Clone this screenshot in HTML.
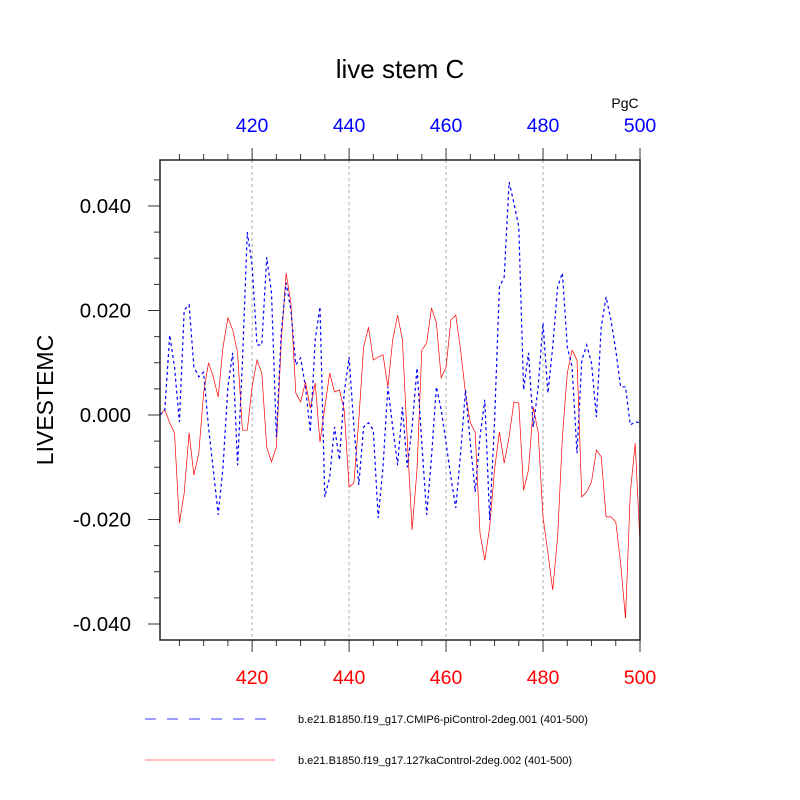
<!DOCTYPE html>
<html><head><meta charset="utf-8"><style>
body{margin:0;background:#fff;}
svg{display:block;font-family:"Liberation Sans",sans-serif;}
</style></head><body>
<svg id="chart" width="800" height="800" viewBox="0 0 800 800">
<rect width="800" height="800" fill="#fff"/>
<text x="400" y="78" font-size="26" text-anchor="middle">live stem C</text>
<text x="625" y="108" font-size="14" text-anchor="middle">PgC</text>
<text transform="translate(53,400) rotate(-90)" font-size="23" text-anchor="middle">LIVESTEMC</text>
<g id="grid"></g><g id="axes"></g><g id="series"></g>
<rect x="160" y="160" width="480" height="480" fill="none" stroke="#222" stroke-width="1.5"/>
<g>
<line x1="145" y1="719" x2="275" y2="719" stroke="#0000ff" stroke-width="0.8" stroke-dasharray="11,11"/>
<text x="298" y="723" font-size="11">b.e21.B1850.f19_g17.CMIP6-piControl-2deg.001 (401-500)</text>
<line x1="145" y1="760" x2="275" y2="760" stroke="#ff0000" stroke-width="0.6"/>
<text x="298" y="764" font-size="11">b.e21.B1850.f19_g17.127kaControl-2deg.002 (401-500)</text>
</g>
</svg>
<script>
const years = Array.from({length:100},(_,i)=>401+i);
const blueVals = [0,0.0010,0.0153,0.0092,-0.0013,0.0201,0.0211,0.0092,0.0073,0.0082,-0.0023,-0.0105,-0.0191,-0.0100,0.0054,0.0119,-0.0096,0.0100,0.0350,0.0287,
0.0134,0.0134,0.0302,0.0234,-0.0042,0.0157,0.0253,0.0201,0.0096,0.0109,0.0054,-0.0033,0.0144,0.0207,-0.0157,-0.0119,-0.0023,-0.0086,0.0042,0.0111,
-0.0023,-0.0134,-0.0023,-0.0015,-0.0029,-0.0197,-0.0100,0.0054,-0.0023,-0.0096,0.0015,-0.0100,-0.0023,0.0090,-0.0054,-0.0191,-0.0080,0.0054,0.0010,
-0.0054,-0.0119,-0.0178,-0.0073,0.0048,-0.0054,-0.0147,-0.0042,0.0029,-0.0201,-0.0015,0.0245,0.0264,0.0446,0.0406,0.0360,0.0048,0.0119,-0.0023,0.0054,0.0176,
0.0042,0.0130,0.0245,0.0272,0.0130,0.0092,-0.0073,0.0105,0.0134,0.0100,-0.0004,0.0168,0.0226,0.0182,0.0124,0.0054,0.0054,-0.0019,-0.0013,-0.0015];
const redVals = [0,0.0010,-0.0015,-0.0034,-0.0207,-0.0149,-0.0034,-0.0115,-0.0073,0.0042,0.0100,0.0073,0.0034,0.0130,0.0186,0.0163,0.0119,-0.0029,-0.0029,0.0054,
0.0105,0.0080,-0.0061,-0.0090,-0.0061,0.0138,0.0272,0.0214,0.0042,0.0025,0.0063,0.0013,0.0061,-0.0052,0.0015,0.0080,0.0044,0.0048,0.0010,-0.0138,
-0.0130,-0.0010,0.0130,0.0168,0.0105,0.0111,0.0115,0.0054,0.0144,0.0191,0.0144,-0.0048,-0.0220,-0.0105,0.0124,0.0138,0.0205,0.0176,0.0071,
0.0092,0.0182,0.0191,0.0124,0.0042,-0.0015,-0.0033,-0.0226,-0.0278,-0.0214,-0.0105,-0.0033,-0.0092,-0.0042,0.0025,0.0023,-0.0144,-0.0105,0.0015,-0.0034,-0.0195,
-0.0264,-0.0335,-0.0234,-0.0042,0.0080,0.0124,0.0105,-0.0157,-0.0147,-0.0128,-0.0067,-0.0080,-0.0195,-0.0195,-0.0205,-0.0283,-0.0389,-0.0149,-0.0054,-0.0245];
const xTicks = [420,440,460,480,500];
const yTicks = [0.04,0.02,0,-0.02,-0.04];
const yTickLabels = ["0.040","0.020","0.000","-0.020","-0.040"];

const NS="http://www.w3.org/2000/svg";
const xS = v => 160 + (v-401)*480/99;
const yS = v => 415 - v*5225;
function mk(tag, attrs, parent){const e=document.createElementNS(NS,tag);for(const k in attrs)e.setAttribute(k,attrs[k]);parent.appendChild(e);return e;}
const grid=document.getElementById('grid'), axes=document.getElementById('axes'), series=document.getElementById('series');

xTicks.forEach(t=>{
  const x=xS(t);
  if(t<500){const g=mk('line',{x1:x,y1:160,x2:x,y2:640,stroke:'#aaa','stroke-width':1,'stroke-dasharray':'3,3'},grid);
  
  }
  const a=mk('line',{x1:x,y1:160,x2:x,y2:148,stroke:'#333','stroke-width':1},axes);
  
  
  const b=mk('line',{x1:x,y1:640,x2:x,y2:652,stroke:'#333','stroke-width':1},axes);
  
  
  const lt=mk('text',{x:x,y:132,'font-size':19.5,fill:'#0000ff','text-anchor':'middle'},axes);lt.textContent=t;
  
  
  const lb=mk('text',{x:x,y:684,'font-size':19.5,fill:'#ff0000','text-anchor':'middle'},axes);lb.textContent=t;
  
  
});
for(let t=405;t<500;t+=5){ if(t%20===0) continue; const x=xS(t);
  const a=mk('line',{x1:x,y1:160,x2:x,y2:154,stroke:'#333','stroke-width':1},axes);
  
  
  const b=mk('line',{x1:x,y1:640,x2:x,y2:646,stroke:'#333','stroke-width':1},axes);
  
  
}
yTicks.forEach((t,i)=>{const y=yS(t);
  const a=mk('line',{x1:148,y1:y,x2:160,y2:y,stroke:'#333','stroke-width':1},axes);
  
  
  const l=mk('text',{x:131,y:y+7,'font-size':20.5,'text-anchor':'end'},axes);l.textContent=yTickLabels[i];
  
  
});
for(let k=-9;k<=9;k++){const v=k*0.005; if(k%4===0) continue; const y=yS(v); if(y<160||y>640) continue;
  const a=mk('line',{x1:154,y1:y,x2:160,y2:y,stroke:'#333','stroke-width':1},axes);
  
  
}
const pts=vals=>vals.map((v,i)=>xS(years[i]).toFixed(1)+','+yS(v).toFixed(1)).join(' ');
const red=mk('polyline',{points:pts(redVals),fill:'none',stroke:'#ff0000','stroke-width':0.7},series);


const blue=mk('polyline',{points:pts(blueVals),fill:'none',stroke:'#0000ff','stroke-width':1.2,'stroke-dasharray':'3,3'},series);


</script>
</body></html>
